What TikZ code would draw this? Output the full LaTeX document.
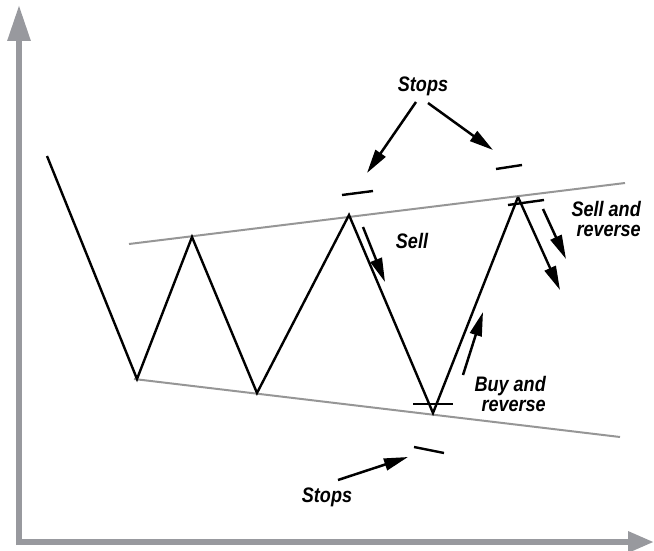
\documentclass[tikz,border=0pt]{standalone}
\usepackage{fontspec}
\setmainfont{Liberation Sans}[FakeStretch=0.86]
\usetikzlibrary{arrows.meta}
\definecolor{axisgray}{RGB}{152,153,158}
\definecolor{linegray}{RGB}{150,150,150}
\tikzset{
  price/.style={line width=2.4pt, black},
  trend/.style={line width=2pt, linegray},
  stopmark/.style={line width=2.4pt, black},
  hint/.style={line width=2.5pt, black, -{Triangle[length=24pt,width=12pt]}},
  lbl/.style={font=\fontsize{21}{20}\selectfont\bfseries\itshape, align=right, inner sep=0pt}
}
\begin{document}
\begin{tikzpicture}[x=1pt, y=-1pt]
\useasboundingbox (0,0) rectangle (654,551);
% axes
\coordinate (origin) at (19,542);
\coordinate (ytop) at (19,5);
\coordinate (xend) at (654,542);
\draw[line width=6pt, axisgray, -{Triangle[length=36pt,width=22pt]}] (19,545) -- (ytop);
\draw[line width=6pt, axisgray, -{Triangle[length=26pt,width=20pt]}] (16,542) -- (xend);
% trend lines
\coordinate (ut1) at (129,244);
\coordinate (ut2) at (625,183);
\coordinate (lt1) at (134,379);
\coordinate (lt2) at (620,437);
\draw[trend] (ut1) -- (ut2);
\draw[trend] (lt1) -- (lt2);
% price
\coordinate (p0) at (47,156);
\coordinate (p1) at (137,379);
\coordinate (p2) at (192,237);
\coordinate (p3) at (257,393);
\coordinate (p4) at (349,215);
\coordinate (p5) at (433,413);
\coordinate (p6) at (518,197);
\coordinate (p7) at (560,290);
\draw[price] (p0) -- (p1) -- (p2) -- (p3) -- (p4) -- (p5) -- (p6);
\draw[price, -{Triangle[length=24pt,width=12pt]}] (p6) -- (p7);
% stops and entries
\draw[stopmark] (342,195) coordinate (s1a) -- (373,191) coordinate (s1b);
\draw[stopmark] (496,169) coordinate (s2a) -- (522,165) coordinate (s2b);
\draw[stopmark] (414,447) coordinate (s3a) -- (444,453) coordinate (s3b);
\draw[stopmark] (508,205) coordinate (e1a) -- (544,200) coordinate (e1b);
\draw[stopmark] (413,404) coordinate (e2a) -- (453,404) coordinate (e2b);
% labels
\node[lbl] (stoptop) at (423,86) {Stops};
\node[lbl] (stopbot) at (327,497) {Stops};
\node[lbl] (sell) at (412,241) {Sell};
\node[lbl, anchor=east] (sellrev) at (641,219) {Sell and\\reverse};
\node[lbl, anchor=east] (buyrev) at (546,394) {Buy and\\reverse};
% hints
\coordinate (tipl) at (367,173);
\coordinate (tipr) at (493,150);
\coordinate (tipb) at (408,457);
\draw[hint] (416,102) -- (tipl);
\draw[hint] (428,103) -- (tipr);
\draw[hint] (338,480) -- (tipb);
\draw[hint] (363,227) coordinate (sellfrom) -- (385,282) coordinate (sellto);
\draw[hint] (543,209) coordinate (srfrom) -- (566,259) coordinate (srto);
\draw[hint] (463,375) coordinate (brfrom) -- (483,312) coordinate (brto);
\end{tikzpicture}
\end{document}
